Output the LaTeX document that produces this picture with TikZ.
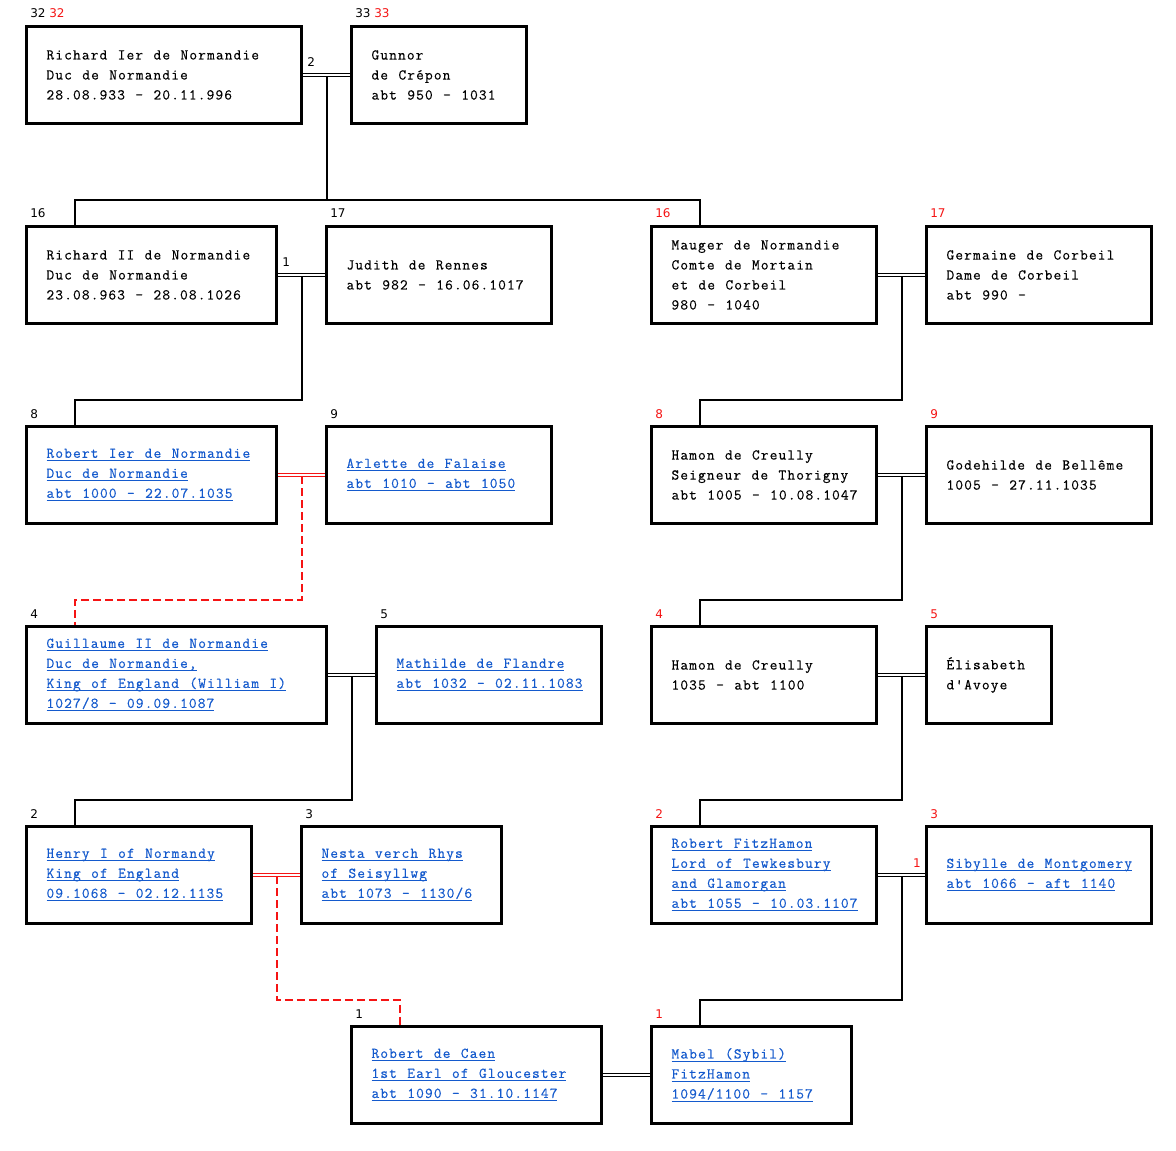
\documentclass[tikz,border=0pt]{standalone}
\usepackage{fontspec}
\setmonofont{Latin Modern Mono}[LetterSpace=7.5, FakeBold=0.4]
\newfontfamily\genf{DejaVu Sans}
\usetikzlibrary{calc}
\definecolor{lnk}{RGB}{20,90,205}
\definecolor{rd}{RGB}{245,20,20}
\newcommand\boxfont{\ttfamily\fontsize{11.25pt}{15pt}\selectfont}
\newlength\wsp \setlength\wsp{7.8pt}
\def\wrds#1 #2\wend{#1\if\relax\detokenize{#2}\relax\else\hspace*{\wsp}\wrds#2\wend\fi}
\newcommand\lk[1]{\leavevmode\setbox0\hbox{\wrds#1 \wend}\rlap{\rule[-2.6pt]{\wd0}{0.75pt}}\box0}
\newcommand\pl[1]{\leavevmode\hbox{\wrds#1 \wend}}
\begin{document}
\begin{tikzpicture}[x=0.75pt,y=-0.75pt,
  pbox/.style={draw, line width=2.25pt, anchor=north west, minimum height=72.75pt, inner xsep=15pt, inner ysep=0pt, align=left, font=\boxfont, text=black},
  lnkbox/.style={pbox, text=lnk},
  gen/.style={anchor=base west, inner sep=0pt, font=\genf\fontsize{9pt}{9pt}\selectfont},
  mar/.style={double=white, double distance=1.3pt, line width=0.75pt, draw=black},
  redmar/.style={mar, draw=rd},
  kid/.style={line width=1.5pt},
  redkid/.style={line width=1.5pt, draw=rd, dash pattern=on 6pt off 3pt}]
\useasboundingbox (0,0) rectangle (1176,1151);
\fill[white] (0,0) rectangle (1176,1151);

% Row 1
\node[pbox, text width=176.25pt] (A) at (25,25) {\pl{Richard Ier de Normandie}\\\pl{Duc de Normandie}\\\pl{28.08.933 - 20.11.996}};
\node[pbox, text width=101.25pt] (B) at (350,25) {\pl{Gunnor}\\\pl{de Crépon}\\\pl{abt 950 - 1031}};
% Row 2
\node[pbox, text width=157.5pt] (C) at (25,225) {\pl{Richard II de Normandie}\\\pl{Duc de Normandie}\\\pl{23.08.963 - 28.08.1026}};
\node[pbox, text width=138.75pt] (D) at (325,225) {\pl{Judith de Rennes}\\\pl{abt 982 - 16.06.1017}};
\node[pbox, text width=138.75pt] (E) at (650,225) {\pl{Mauger de Normandie}\\\pl{Comte de Mortain}\\\pl{et de Corbeil}\\\pl{980 - 1040}};
\node[pbox, text width=138.75pt] (F) at (925,225) {\pl{Germaine de Corbeil}\\\pl{Dame de Corbeil}\\\pl{abt 990 -}};
% Row 3
\node[lnkbox, text width=157.5pt] (G) at (25,425) {\lk{Robert Ier de Normandie}\\\lk{Duc de Normandie}\\\lk{abt 1000 - 22.07.1035}};
\node[lnkbox, text width=138.75pt] (H) at (325,425) {\lk{Arlette de Falaise}\\\lk{abt 1010 - abt 1050}};
\node[pbox, text width=138.75pt] (I) at (650,425) {\pl{Hamon de Creully}\\\pl{Seigneur de Thorigny}\\\pl{abt 1005 - 10.08.1047}};
\node[pbox, text width=138.75pt] (J) at (925,425) {\pl{Godehilde de Bellême}\\\pl{1005 - 27.11.1035}};
% Row 4
\node[lnkbox, text width=195pt] (K) at (25,625) {\lk{Guillaume II de Normandie}\\\lk{Duc de Normandie,}\\\lk{King of England (William I)}\\\lk{1027/8 - 09.09.1087}};
\node[lnkbox, text width=138.75pt] (L) at (375,625) {\lk{Mathilde de Flandre}\\\lk{abt 1032 - 02.11.1083}};
\node[pbox, text width=138.75pt] (M) at (650,625) {\pl{Hamon de Creully}\\\pl{1035 - abt 1100}};
\node[pbox, text width=63.75pt] (N) at (925,625) {\pl{Élisabeth}\\\pl{d'Avoye}};
% Row 5
\node[lnkbox, text width=138.75pt] (O) at (25,825) {\lk{Henry I of Normandy}\\\lk{King of England}\\\lk{09.1068 - 02.12.1135}};
\node[lnkbox, text width=120pt] (P) at (300,825) {\lk{Nesta verch Rhys}\\\lk{of Seisyllwg}\\\lk{abt 1073 - 1130/6}};
\node[lnkbox, text width=138.75pt] (Q) at (650,825) {\lk{Robert FitzHamon}\\\lk{Lord of Tewkesbury}\\\lk{and Glamorgan}\\\lk{abt 1055 - 10.03.1107}};
\node[lnkbox, text width=138.75pt] (R) at (925,825) {\lk{Sibylle de Montgomery}\\\lk{abt 1066 - aft 1140}};
% Row 6
\node[lnkbox, text width=157.5pt] (S) at (350,1025) {\lk{Robert de Caen}\\\lk{1st Earl of Gloucester}\\\lk{abt 1090 - 31.10.1147}};
\node[lnkbox, text width=120pt] (T) at (650,1025) {\lk{Mabel (Sybil)}\\\lk{FitzHamon}\\\lk{1094/1100 - 1157}};

% generation labels
\node[gen] (gA) at ($(A.north west)+(5,-7)$) {32 \textcolor{rd}{32}};
\node[gen] (gB) at ($(B.north west)+(5,-7)$) {33 \textcolor{rd}{33}};
\node[gen] (gC) at ($(C.north west)+(5,-7)$) {16};
\node[gen] (gD) at ($(D.north west)+(5,-7)$) {17};
\node[gen, text=rd] (gE) at ($(E.north west)+(5,-7)$) {16};
\node[gen, text=rd] (gF) at ($(F.north west)+(5,-7)$) {17};
\node[gen] (gG) at ($(G.north west)+(5,-7)$) {8};
\node[gen] (gH) at ($(H.north west)+(5,-7)$) {9};
\node[gen, text=rd] (gI) at ($(I.north west)+(5,-7)$) {8};
\node[gen, text=rd] (gJ) at ($(J.north west)+(5,-7)$) {9};
\node[gen] (gK) at ($(K.north west)+(5,-7)$) {4};
\node[gen] (gL) at ($(L.north west)+(5,-7)$) {5};
\node[gen, text=rd] (gM) at ($(M.north west)+(5,-7)$) {4};
\node[gen, text=rd] (gN) at ($(N.north west)+(5,-7)$) {5};
\node[gen] (gO) at ($(O.north west)+(5,-7)$) {2};
\node[gen] (gP) at ($(P.north west)+(5,-7)$) {3};
\node[gen, text=rd] (gQ) at ($(Q.north west)+(5,-7)$) {2};
\node[gen, text=rd] (gR) at ($(R.north west)+(5,-7)$) {3};
\node[gen] (gS) at ($(S.north west)+(5,-7)$) {1};
\node[gen, text=rd] (gT) at ($(T.north west)+(5,-7)$) {1};

% marriage lines
\draw[mar] (A.east) -- (B.west);
\draw[mar] (C.east) -- (D.west);
\draw[mar] (E.east) -- (F.west);
\draw[redmar] (G.east) -- (H.west);
\draw[mar] (I.east) -- (J.west);
\draw[mar] (K.east) -- (L.west);
\draw[mar] (M.east) -- (N.west);
\draw[redmar] (O.east) -- (P.west);
\draw[mar] (Q.east) -- (R.west);
\draw[mar] (S.east) -- (T.west);

% marriage numbers
\node[gen] (nAB) at ($(A.east)+(4,-8)$) {2};
\node[gen] (nCD) at ($(C.east)+(4,-8)$) {1};
\node[gen, anchor=base east, text=rd] (nQR) at ($(R.west)+(-4,-8)$) {1};

% mid points of marriages
\foreach \a/\b in {A/B,C/D,E/F,G/H,I/J,K/L,M/N,O/P,Q/R}
  \coordinate (m\a\b) at ($(\a.east)!0.5!(\b.west)+(0,1.3)$);
% child tops
\foreach \c in {C,E,G,I,K,M,O,Q,S,T}
  \coordinate (t\c) at ($(\c.north west)+(50,0)$);

% descent lines
\draw[kid] (tC) -- ++(0,-25) -| (tE);
\draw[kid] (mAB) -- ($(mAB |- tC)+(0,-25)$);
\draw[kid] (mCD) |- ($(tG)+(0,-25)$) -- (tG);
\draw[kid] (mEF) |- ($(tI)+(0,-25)$) -- (tI);
\draw[redkid] (mGH) |- ($(tK)+(0,-25)$) -- (tK);
\draw[kid] (mIJ) |- ($(tM)+(0,-25)$) -- (tM);
\draw[kid] (mKL) |- ($(tO)+(0,-25)$) -- (tO);
\draw[kid] (mMN) |- ($(tQ)+(0,-25)$) -- (tQ);
\draw[redkid] (mOP) |- ($(tS)+(0,-25)$) -- (tS);
\draw[kid] (mQR) |- ($(tT)+(0,-25)$) -- (tT);
\end{tikzpicture}
\end{document}
